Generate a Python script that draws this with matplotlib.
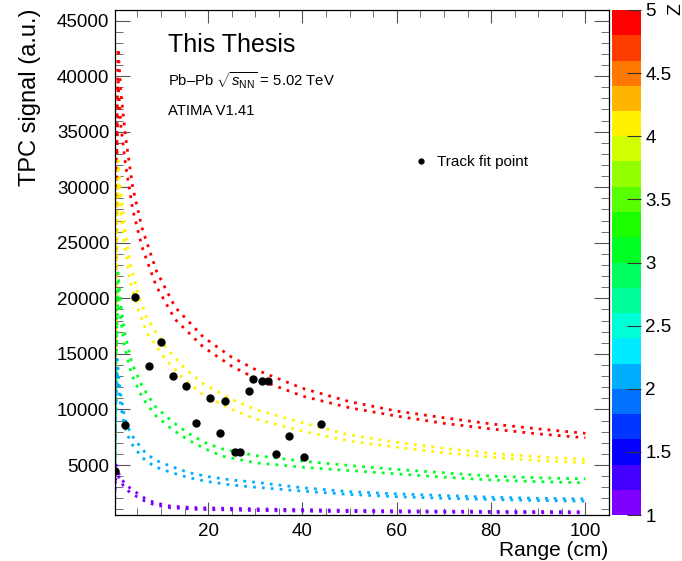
import numpy as np
import matplotlib
matplotlib.use("Agg")
import matplotlib.pyplot as plt
from matplotlib.colors import ListedColormap, Normalize, hsv_to_rgb
from matplotlib.cm import ScalarMappable
from matplotlib.ticker import MultipleLocator

# ATIMA expectation bands, two per charge Z
range_z5 = [0.2, 0.5, 0.9, 1.5, 2.5, 4, 6, 9, 13, 19, 25, 30, 40, 50, 60, 70, 80, 90, 100]
signal_z5_a = [6000, 30000, 42500, 38500, 34500, 30000, 26300, 22500, 19200, 16500, 14700, 13600, 11900, 10700, 9850, 9250, 8700, 8250, 7850]
signal_z5_b = [5000, 26000, 39500, 35500, 32000, 28000, 24600, 21100, 18100, 15600, 13900, 12800, 11200, 10150, 9400, 8750, 8250, 7800, 7450]

range_z4 = [0.2, 0.5, 0.9, 1.5, 2.3, 3.4, 5, 7, 11, 15, 19, 25, 30, 40, 50, 60, 70, 80, 90, 100]
signal_z4_a = [5000, 22000, 32400, 29500, 26500, 23300, 20600, 18200, 15600, 13700, 12300, 10900, 10000, 8800, 7700, 7050, 6500, 6050, 5750, 5500]
signal_z4_b = [4500, 20000, 30500, 27700, 24700, 21700, 19200, 16900, 14500, 12700, 11300, 10000, 9150, 8050, 7150, 6600, 6100, 5700, 5400, 5200]

range_z3 = [0.2, 0.5, 0.9, 1.5, 2.3, 3.8, 6, 8.7, 12.4, 16, 19.4, 23, 30, 40, 50, 60, 70, 80, 90, 100]
signal_z3_a = [4500, 15000, 22300, 19400, 16900, 14200, 12100, 10300, 8900, 7800, 7000, 6450, 5850, 5350, 4950, 4600, 4300, 4000, 3850, 3750]
signal_z3_b = [4000, 14000, 20800, 18000, 15600, 13100, 11100, 9500, 8200, 7200, 6450, 5800, 5200, 4800, 4500, 4200, 3900, 3650, 3500, 3400]

range_z2 = [0.2, 0.4, 0.7, 1.3, 2.3, 3.5, 4.5, 6.6, 8.7, 12, 16, 20, 25, 30, 40, 50, 60, 70, 80, 90, 100]
signal_z2_a = [4000, 10000, 14500, 11800, 9200, 7900, 7250, 6150, 5450, 4900, 4300, 3950, 3650, 3450, 2950, 2600, 2400, 2250, 2100, 2000, 1950]
signal_z2_b = [3500, 9000, 13500, 10800, 8400, 7100, 6450, 5450, 4850, 4350, 3850, 3500, 3200, 3000, 2650, 2350, 2150, 2000, 1900, 1800, 1750]

range_z1 = [0.2, 0.5, 0.8, 1.3, 2.3, 3.5, 4.5, 6.6, 8.7, 12, 18, 25, 30, 40, 50, 60, 70, 80, 90, 100]
signal_z1_a = [2500, 5000, 4600, 3950, 3350, 2900, 2600, 2000, 1600, 1300, 1150, 1100, 1050, 980, 920, 880, 850, 830, 810, 800]
signal_z1_b = [2000, 4600, 4200, 3600, 2950, 2500, 2250, 1750, 1400, 1150, 1000, 950, 900, 850, 800, 770, 750, 730, 710, 700]

# track fit points
fit_range = [0.3, 2.35, 4.45, 7.5, 10.0, 12.5, 15.2, 17.5, 20.5, 22.5, 23.6,
             25.7, 26.7, 28.7, 29.5, 31.5, 32.7, 34.3, 37.2, 40.3, 43.9]
fit_signal = [4450, 8600, 20100, 13930, 16090, 13030, 12100, 8780, 11050, 7880, 10780,
              6200, 6200, 11680, 12710, 12580, 12580, 5990, 7610, 5690, 8710]

z_ticks = [1, 1.5, 2, 2.5, 3, 3.5, 4, 4.5, 5]

plt.rcParams['font.family'] = ['Liberation Sans', 'DejaVu Sans']
plt.rcParams['mathtext.fontset'] = 'custom'
plt.rcParams['mathtext.rm'] = 'Liberation Sans'
plt.rcParams['mathtext.it'] = 'Liberation Sans:italic'

# ROOT style rainbow palette, 20 steps from violet to red
n_steps = 20
hue = np.linspace(270, 0, n_steps) / 360
cmap = ListedColormap(hsv_to_rgb(np.column_stack([hue, np.ones(n_steps), np.ones(n_steps)])))
norm = Normalize(1, 5)

fig = plt.figure(figsize=(6.82, 5.61), dpi=100)
ax = fig.add_axes([115 / 682, 46 / 561, 494 / 682, 505 / 561])

curves = [
    (5, range_z5, signal_z5_a), (5, range_z5, signal_z5_b),
    (4, range_z4, signal_z4_a), (4, range_z4, signal_z4_b),
    (3, range_z3, signal_z3_a), (3, range_z3, signal_z3_b),
    (2, range_z2, signal_z2_a), (2, range_z2, signal_z2_b),
    (1, range_z1, signal_z1_a), (1, range_z1, signal_z1_b),
]
for z, xs, ys in curves:
    ax.plot(xs, ys, color=cmap(norm(z)), lw=2.0, ls=(0, (1, 2.2)))

ax.plot(fit_range, fit_signal, 'o', color='black', ms=5, label='Track fit point', zorder=5)

ax.set_xlim(0.25, 105)
ax.set_ylim(500, 45950)
ax.xaxis.set_major_locator(MultipleLocator(20))
ax.xaxis.set_minor_locator(MultipleLocator(5))
ax.yaxis.set_major_locator(MultipleLocator(5000))
ax.yaxis.set_minor_locator(MultipleLocator(1000))
ax.tick_params(which='both', direction='in', top=True, right=True, color='#555', labelsize=13.5)
ax.tick_params(axis='x', which='major', length=9.5, pad=6)
ax.tick_params(axis='x', which='minor', length=5)
ax.tick_params(axis='y', which='major', length=11, pad=4)
ax.tick_params(axis='y', which='minor', length=5.5)
for s in ax.spines.values():
    s.set_linewidth(0.9)

ax.legend(loc='center left', bbox_to_anchor=(0.603, 0.699), frameon=False, fontsize=11,
          handlelength=1, handletextpad=0.6, borderpad=0, borderaxespad=0, markerscale=0.7)

fig.text(168 / 682, 1 - 45 / 561, 'This Thesis', fontsize=18, va='center')
fig.text(168 / 682, 1 - 81 / 561, r'Pb–Pb $\sqrt{s_{\rm NN}}$ = 5.02 TeV', fontsize=10.7, va='center')
fig.text(168 / 682, 1 - 111 / 561, 'ATIMA V1.41', fontsize=10.7, va='center')

fig.text(30 / 682, 1 - 8 / 561, 'TPC signal (a.u.)', rotation=90, ha='center', va='top', fontsize=17)
fig.text(608 / 682, 1 - 550 / 561, 'Range (cm)', ha='right', va='center', fontsize=15)

cax = fig.add_axes([612 / 682, 46 / 561, 29 / 682, 505 / 561])
cb = fig.colorbar(ScalarMappable(norm=norm, cmap=cmap), cax=cax, ticks=z_ticks)
cb.outline.set_visible(False)
cb.set_ticklabels(['%g' % t for t in z_ticks])
cax.tick_params(direction='in', length=10, color='#333', labelsize=13.5, pad=3)
cax.minorticks_off()
fig.text(676 / 682, 1 - 3 / 561, 'Z', rotation=90, ha='center', va='top', fontsize=14)

fig.savefig('out.png', dpi=100)
